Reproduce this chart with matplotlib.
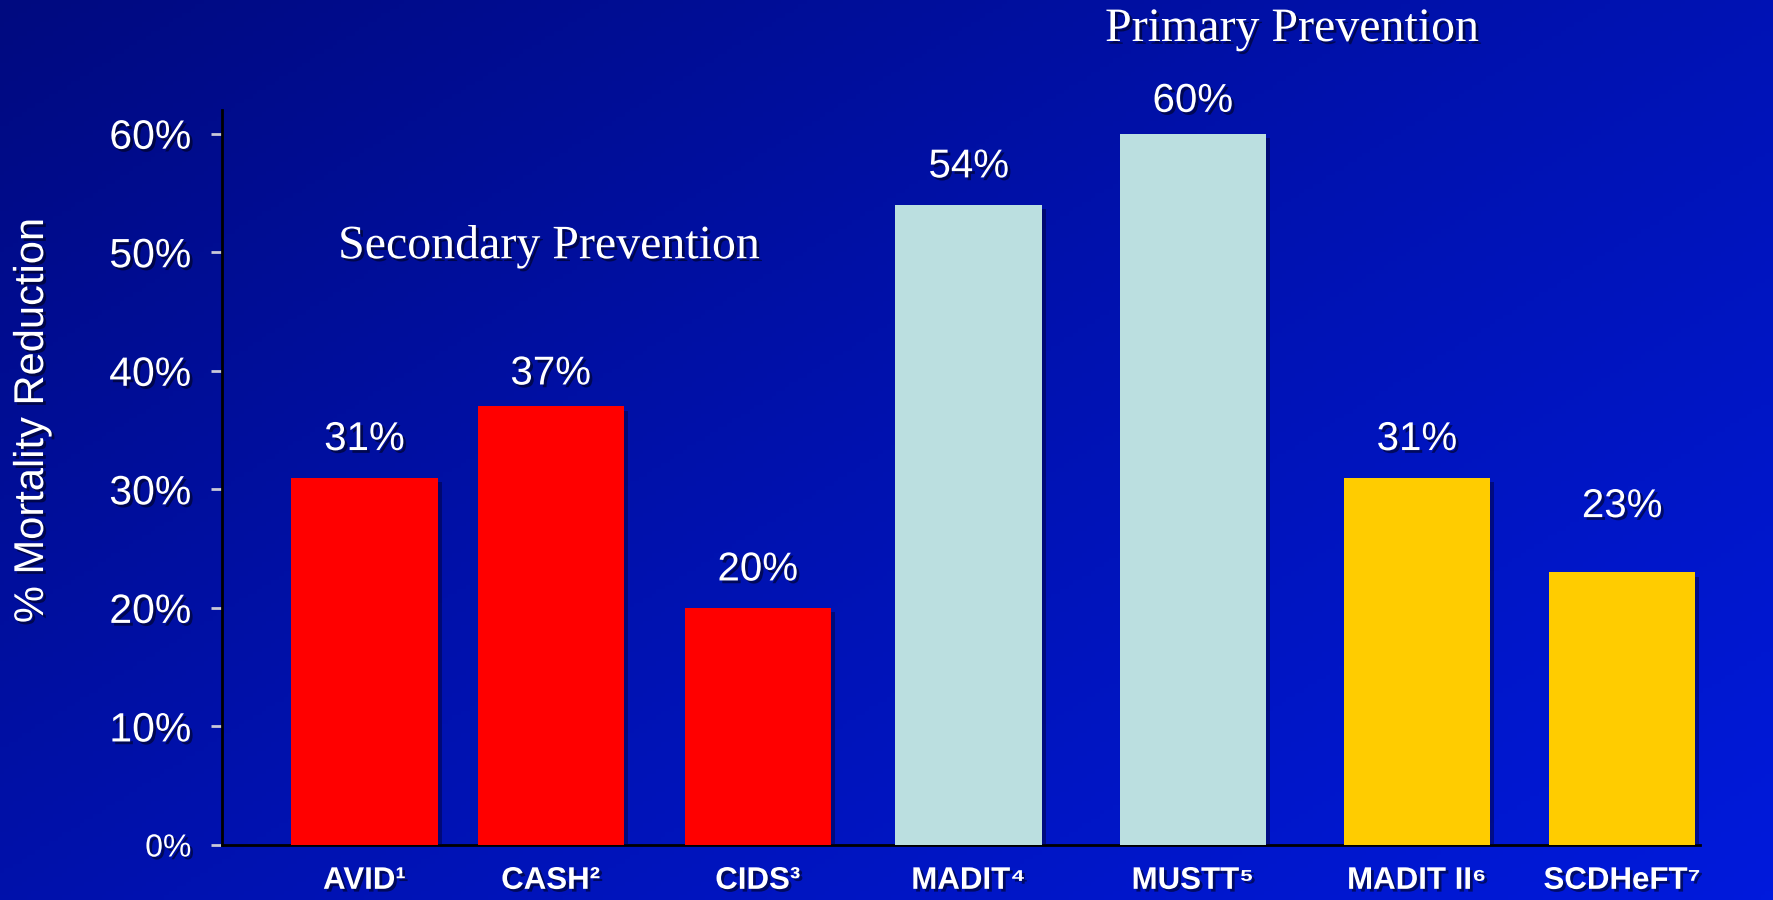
import numpy as np
import matplotlib.pyplot as plt
import matplotlib.patheffects as pe
from matplotlib.colors import LinearSegmentedColormap

# Data
trials = ["AVID¹", "CASH²", "CIDS³", "MADIT⁴", "MUSTT⁵", "MADIT II⁶", "SCDHeFT⁷"]
reduction = [31, 37, 20, 54, 60, 31, 23]
bar_colors = ["#ff0000", "#ff0000", "#ff0000", "#bbdfe0", "#bbdfe0", "#ffcc00", "#ffcc00"]
yticks = [0, 10, 20, 30, 40, 50, 60]

# layout: bars are not evenly spaced on the slide
xpos = [0, 0.98, 2.07, 3.18, 4.36, 5.54, 6.62]
label_gap = [14, 10, 14, 14, 10, 14, 34]

fig = plt.figure(figsize=(17.74, 9), dpi=100)

# diagonal blue gradient background
bg = fig.add_axes([0, 0, 1, 1], zorder=0)
gx, gy = np.meshgrid(np.linspace(0, 1, 400), np.linspace(0, 1, 200))
grad = 0.55 * gx + 0.45 * gy
cmap = LinearSegmentedColormap.from_list("slide", ["#000a80", "#0012b0", "#001adc"])
bg.imshow(grad, cmap=cmap, aspect="auto", extent=[0, 1, 0, 1], origin="upper")
bg.axis("off")

ax = fig.add_axes([222 / 1774, 55 / 900, (1700 - 222) / 1774, 735 / 900], zorder=1)
ax.set_facecolor("none")

shadow_bar = [pe.SimplePatchShadow(offset=(3, -3), shadow_rgbFace="#000030", alpha=0.45), pe.Normal()]
shadow_txt = [pe.withSimplePatchShadow(offset=(2, -2), shadow_rgbFace="black", alpha=0.5)]

bars = ax.bar(xpos, reduction, width=0.77, color=bar_colors, zorder=3)
for b in bars:
    b.set_path_effects(shadow_bar)

for x, v, g in zip(xpos, reduction, label_gap):
    ax.annotate(f"{v}%", (x, v), xytext=(0, g), textcoords="offset points",
                ha="center", va="bottom", color="white", fontsize=29,
                family="Liberation Sans", path_effects=shadow_txt)

ax.set_xlim(-0.75, 7.03)
ax.set_ylim(0, 62)
ax.set_yticks(yticks)
ax.set_yticklabels([f"{t}%" for t in yticks])
ax.set_xticks(xpos)
ax.set_xticklabels(trials)

for lab in ax.get_yticklabels():
    lab.set_family("Liberation Sans")
    lab.set_fontsize(29.5)
    lab.set_path_effects(shadow_txt)
ax.get_yticklabels()[0].set_fontsize(23)
for lab in ax.get_xticklabels():
    lab.set_family(["Liberation Sans", "DejaVu Sans"])
    lab.set_fontsize(22.5)
    lab.set_fontweight("bold")
    lab.set_path_effects(shadow_txt)

ax.tick_params(axis="y", color="#c8c8d8", labelcolor="white", length=8, width=2, pad=14)
ax.tick_params(axis="x", length=0, labelcolor="white", pad=15)

ax.set_ylabel("% Mortality Reduction", color="white", fontsize=30,
              family="Liberation Sans", path_effects=shadow_txt)
ax.yaxis.set_label_coords(-0.115, 0.577)

for s in ["top", "right"]:
    ax.spines[s].set_visible(False)
for s in ["left", "bottom"]:
    ax.spines[s].set_color("black")
    ax.spines[s].set_linewidth(2)

fig.text(549 / 1774, 1 - 246 / 900, "Secondary Prevention", color="white", fontsize=34.5,
         family="Liberation Serif", ha="center", va="center", path_effects=shadow_txt)
fig.text(1292 / 1774, 1 - 29 / 900, "Primary Prevention", color="white", fontsize=34.5,
         family="Liberation Serif", ha="center", va="center", path_effects=shadow_txt)

fig.savefig("out.png", dpi=100)
